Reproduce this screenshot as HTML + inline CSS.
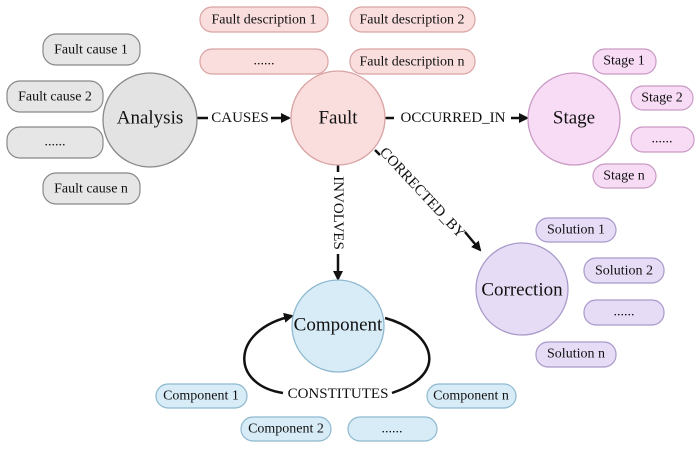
<!DOCTYPE html>
<html><head><style>
html,body{margin:0;padding:0;background:#fff;}
svg{display:block;}
svg text{font-family:"Liberation Serif","Times New Roman","DejaVu Serif","Noto Serif CJK SC",serif;}
</style></head><body>
<svg width="700" height="451" viewBox="0 0 700 451" xmlns="http://www.w3.org/2000/svg" font-family="Liberation Serif, DejaVu Serif, serif">
<defs>
<marker id="ah" markerWidth="10" markerHeight="10" refX="8" refY="5" orient="auto" markerUnits="userSpaceOnUse">
<path d="M0,0 L10,5 L0,10 Z" fill="#111"/>
</marker>
</defs>
<g font-size="14" text-anchor="middle" dominant-baseline="central" fill="#111">
<g fill="#e6e6e6" stroke="#888" stroke-width="1.2">
<rect x="43" y="34" width="97" height="31" rx="13"/>
<rect x="7" y="81" width="96" height="31" rx="13"/>
<rect x="7" y="127" width="96" height="31" rx="13"/>
<rect x="43" y="173" width="97" height="31" rx="13"/>
</g>
<text x="91" y="50">Fault cause 1</text>
<text x="55" y="97">Fault cause 2</text>
<text x="55" y="142">......</text>
<text x="91" y="189">Fault cause n</text>
<g fill="#fadede" stroke="#d9a3a3" stroke-width="1.2">
<rect x="200" y="7" width="128" height="25" rx="12"/>
<rect x="200" y="49" width="128" height="25" rx="12"/>
<rect x="350" y="7" width="125" height="25" rx="12"/>
<rect x="350" y="49" width="125" height="25" rx="12"/>
</g>
<text x="264" y="20">Fault description 1</text>
<text x="264" y="61">......</text>
<text x="412" y="20">Fault description 2</text>
<text x="412" y="62">Fault description n</text>
<g fill="#f8dcf5" stroke="#c99ac4" stroke-width="1.2">
<rect x="593" y="49" width="63" height="25" rx="12"/>
<rect x="631" y="86" width="62" height="24" rx="12"/>
<rect x="631" y="127" width="63" height="25" rx="12"/>
<rect x="593" y="164" width="63" height="24" rx="12"/>
</g>
<text x="624" y="61">Stage 1</text>
<text x="662" y="98">Stage 2</text>
<text x="662" y="139">......</text>
<text x="624" y="176">Stage n</text>
<g fill="#e6dcf5" stroke="#a99ac9" stroke-width="1.2">
<rect x="536" y="218" width="80" height="24" rx="12"/>
<rect x="584" y="258" width="80" height="25" rx="12"/>
<rect x="584" y="300" width="80" height="25" rx="12"/>
<rect x="536" y="342" width="80" height="25" rx="12"/>
</g>
<text x="576" y="230">Solution 1</text>
<text x="624" y="271">Solution 2</text>
<text x="624" y="312">......</text>
<text x="576" y="354">Solution n</text>
<g fill="#d8ecf7" stroke="#8fb8cf" stroke-width="1.2">
<rect x="156" y="384" width="91" height="24" rx="12"/>
<rect x="241" y="417" width="90" height="24" rx="12"/>
<rect x="348" y="417" width="89" height="24" rx="12"/>
<rect x="427" y="384" width="89" height="24" rx="12"/>
</g>
<text x="201" y="396">Component 1</text>
<text x="286" y="429">Component 2</text>
<text x="392" y="429">......</text>
<text x="471" y="396">Component n</text>
</g>
<g stroke="#111" stroke-width="2.5" fill="none">
<line x1="197" y1="118" x2="208" y2="118"/>
<line x1="271" y1="118" x2="289" y2="118" marker-end="url(#ah)"/>
<line x1="385" y1="118" x2="394" y2="118"/>
<line x1="511" y1="118" x2="527" y2="118" marker-end="url(#ah)"/>
<line x1="338" y1="165" x2="338" y2="172"/>
<line x1="338" y1="254" x2="338" y2="279" marker-end="url(#ah)"/>
<line x1="375" y1="150" x2="380" y2="155"/>
<line x1="465" y1="232" x2="480" y2="250" marker-end="url(#ah)"/>
<path d="M385,318 C430,330 450,370 400,390 L392,393"/>
<path d="M283,393 C230,385 230,330 292,316" marker-end="url(#ah)"/>
</g>
<g font-size="15" fill="#111" dominant-baseline="central">
<text x="240" y="118" text-anchor="middle">CAUSES</text>
<text x="453" y="118" text-anchor="middle">OCCURRED_IN</text>
<text transform="translate(338,213) rotate(90)" text-anchor="middle">INVOLVES</text>
<text transform="translate(422,193) rotate(47)" text-anchor="middle">CORRECTED_BY</text>
<text x="338" y="394" text-anchor="middle">CONSTITUTES</text>
</g>
<g stroke-width="1.3">
<circle cx="150" cy="120" r="47" fill="#e3e3e3" stroke="#888"/>
<circle cx="338" cy="118" r="47" fill="#fadede" stroke="#d9a3a3"/>
<circle cx="574" cy="119" r="46" fill="#f8dcf5" stroke="#c99ac4"/>
<circle cx="522" cy="289" r="46" fill="#e6dcf5" stroke="#a99ac9"/>
<circle cx="338" cy="326" r="46" fill="#d8ecf7" stroke="#8fb8cf"/>
</g>
<g font-size="19" text-anchor="middle" dominant-baseline="central" fill="#111">
<text x="150" y="118">Analysis</text>
<text x="338" y="118">Fault</text>
<text x="574" y="118">Stage</text>
<text x="522" y="290">Correction</text>
<text x="338" y="325">Component</text>
</g>
</svg>
</body></html>
